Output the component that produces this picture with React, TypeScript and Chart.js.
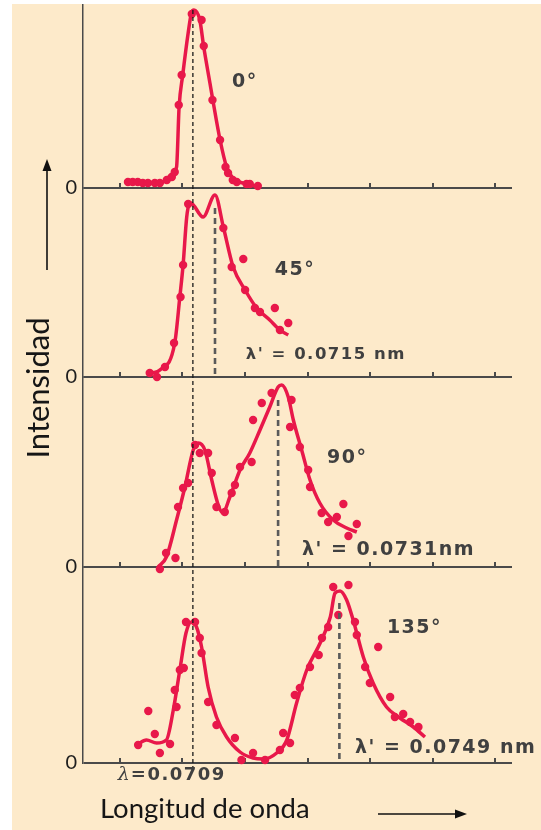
import React, { useEffect, useRef } from "react";
import { Chart, registerables } from "chart.js";

Chart.register(...registerables);

const BEIGE = "#FDEACA";
const RED = "#E8184A";
const AXIS = "#4a4a4a";
const LABEL = "#404040";

// wavelength axis (nm)
const X_MIN = 0.06787;
const X_MAX = 0.0797;
const xTicks = [0.06889, 0.0706, 0.07234, 0.07407, 0.07578, 0.07752, 0.07923];
const lambda0 = 0.0709;

const panelIds = ["p1", "p2", "p3", "p4"];
const panelMax = [183, 189, 190, 196];

// 0°
const fit0 = [
  [0.06907, 6], [0.06962, 5], [0.07007, 6], [0.07035, 15], [0.07045, 21], [0.07052, 81],
  [0.07062, 113], [0.07077, 155], [0.07086, 175], [0.07093, 178], [0.07109, 168], [0.0712, 141],
  [0.07137, 105], [0.07145, 88], [0.07165, 48], [0.07183, 21], [0.072, 10], [0.07238, 4], [0.07275, 1],
];
const pts0 = [
  [0.06911, 6], [0.06924, 6], [0.06938, 6], [0.06952, 5], [0.06966, 5], [0.06985, 5], [0.06999, 5],
  [0.07018, 8], [0.07032, 11], [0.0704, 16], [0.07051, 83], [0.07059, 113], [0.07087, 174],
  [0.07114, 168], [0.0712, 142], [0.07144, 88], [0.07165, 48], [0.0718, 21], [0.07187, 15],
  [0.072, 8], [0.07211, 6], [0.07238, 4], [0.07247, 4], [0.07269, 2],
];

// 45°
const fit45 = [
  [0.06976, 4], [0.06999, 7], [0.0704, 34], [0.07054, 80], [0.07063, 112], [0.07073, 160],
  [0.0708, 173], [0.07084, 174], [0.07118, 160], [0.07151, 182], [0.07174, 150], [0.07201, 110],
  [0.07234, 87], [0.07266, 69], [0.07302, 57], [0.0733, 47], [0.07353, 42],
];
const pts45 = [
  [0.06971, 4], [0.06991, 0], [0.07013, 10], [0.07038, 34], [0.07056, 80], [0.07063, 112],
  [0.07077, 173], [0.07174, 149], [0.07197, 110], [0.07229, 118], [0.07234, 87], [0.07261, 69],
  [0.07275, 65], [0.07316, 69], [0.0733, 47], [0.07353, 54],
];
const shift45 = [[0.07151, 169], [0.07151, 0]];

// 90°
const fit90 = [
  [0.06994, 0], [0.07017, 10], [0.07045, 47], [0.07068, 80], [0.07091, 117], [0.07105, 124],
  [0.07123, 117], [0.07142, 87], [0.0716, 62], [0.07172, 54], [0.07192, 70], [0.0722, 97],
  [0.07247, 114], [0.07275, 137], [0.07302, 160], [0.07325, 180], [0.07335, 182], [0.07353, 170],
  [0.07367, 147], [0.0739, 117], [0.07413, 87], [0.0744, 64], [0.07477, 47], [0.07514, 39], [0.07542, 35],
];
const pts90 = [
  [0.06999, -2], [0.07016, 14], [0.07042, 9], [0.07049, 60], [0.07063, 79], [0.07077, 84],
  [0.07096, 122], [0.07109, 114], [0.07132, 114], [0.07142, 94], [0.07155, 60], [0.07178, 55],
  [0.07197, 74], [0.07206, 82], [0.0722, 100], [0.07252, 105], [0.07256, 147], [0.0728, 164],
  [0.07307, 174], [0.07362, 167], [0.07358, 140], [0.07385, 120], [0.07408, 97], [0.07413, 80],
  [0.07445, 54], [0.07463, 45], [0.07487, 50], [0.07505, 63], [0.07519, 31], [0.07542, 43],
];
const shift90 = [[0.07325, 167], [0.07325, 0]];

// 135°
const fit135 = [
  [0.06935, 18], [0.06962, 23], [0.0699, 20], [0.07017, 23], [0.07036, 53], [0.07054, 93],
  [0.07071, 130], [0.07086, 141], [0.071, 136], [0.07114, 116], [0.07132, 76], [0.07155, 46],
  [0.07183, 26], [0.0722, 11], [0.07256, 5], [0.07284, 4], [0.07321, 10], [0.07349, 23],
  [0.07376, 60], [0.07404, 93], [0.07441, 120], [0.07469, 146], [0.07482, 170], [0.07496, 172],
  [0.07514, 163], [0.07532, 143], [0.0756, 106], [0.07587, 80], [0.07624, 56], [0.07661, 45],
  [0.07698, 36], [0.0773, 26],
];
const pts135 = [
  [0.06939, 18], [0.06967, 52], [0.06985, 29], [0.06999, 10], [0.07027, 19], [0.0704, 73],
  [0.07045, 56], [0.07054, 93], [0.07065, 95], [0.07071, 141], [0.07096, 141], [0.07109, 125],
  [0.07114, 110], [0.07132, 61], [0.07155, 38], [0.07206, 25], [0.07224, 3], [0.07256, 10],
  [0.07289, 3], [0.0733, 13], [0.07339, 30], [0.07358, 20], [0.07371, 68], [0.07385, 75],
  [0.07413, 96], [0.07437, 108], [0.07446, 125], [0.07463, 136], [0.07477, 176], [0.07491, 148],
  [0.07519, 178], [0.07537, 141], [0.07542, 128], [0.07565, 96], [0.07578, 80], [0.07601, 116],
  [0.07634, 66], [0.07647, 46], [0.0767, 49], [0.07689, 41], [0.07712, 36],
];
const shift135 = [[0.07494, 160], [0.07494, 0]];

// reference-line extent (values on top / bottom panel)
const lambdaTop = 178;
const lambdaBottom = -5;

// text annotations, anchored at data coordinates (left edge, vertical middle)
const annotations = [
  { text: "0°", x: 0.07198, y: 106, axis: "p1", size: 19 },
  { text: "45°", x: 0.07316, y: 107, axis: "p2", size: 19 },
  { text: "90°", x: 0.0746, y: 109, axis: "p3", size: 19 },
  { text: "135°", x: 0.07625, y: 135, axis: "p4", size: 19 },
  { text: "λ' = 0.0715 nm", x: 0.07236, y: 22, axis: "p2", size: 16.5 },
  { text: "λ' = 0.0731nm", x: 0.07391, y: 17, axis: "p3", size: 19 },
  { text: "λ' = 0.0749 nm", x: 0.07537, y: 15, axis: "p4", size: 19 },
];
const lambdaLabel = { sym: "λ", rest: "=0.0709", x: 0.06883, y: -12, axis: "p4" };

const yTitle = "Intensidad";
const xTitle = "Longitud de onda";

const toPts = (arr: number[][]) => arr.map(([x, y]) => ({ x, y }));

function curveDs(arr: number[][], axis: string) {
  return {
    data: toPts(arr), xAxisID: "x", yAxisID: axis, showLine: true, borderColor: RED,
    borderWidth: 3.5, pointRadius: 0, pointHoverRadius: 0, cubicInterpolationMode: "monotone",
    fill: false, clip: false, order: 2,
  };
}
function pointDs(arr: number[][], axis: string) {
  return {
    data: toPts(arr), xAxisID: "x", yAxisID: axis, showLine: false, backgroundColor: RED,
    borderColor: RED, borderWidth: 0, pointRadius: 4.2, clip: false, order: 1,
  };
}
function shiftDs(arr: number[][], axis: string) {
  return {
    data: toPts(arr), xAxisID: "x", yAxisID: axis, showLine: true, borderColor: "#5a5a5a",
    borderWidth: 2.6, borderDash: [6, 4], pointRadius: 0, fill: false, clip: false, order: 0,
  };
}

function panelAxis(i: number) {
  return {
    type: "linear",
    position: "left",
    stack: "panels",
    stackWeight: panelMax[i],
    weight: 4 - i,
    min: 0,
    max: panelMax[i],
    afterBuildTicks: (s: any) => {
      s.ticks = [{ value: 0 }];
    },
    afterFit: (s: any) => {
      s.width = 83;
      s.paddingTop = 0;
      s.paddingBottom = 0;
    },
    ticks: {
      color: "#1e1e1e",
      font: { family: "Lato", size: 20 },
      padding: 6,
      callback: () => "0",
    },
    grid: { drawTicks: false, color: AXIS, lineWidth: 2 },
    border: { display: true, color: AXIS, width: 1.5 },
  };
}

const decor = {
  id: "decor",
  beforeDatasetsDraw(chart: any) {
    const { ctx } = chart;
    const xs = chart.scales.x;
    ctx.save();
    ctx.strokeStyle = AXIS;
    ctx.lineWidth = 2;
    for (const id of panelIds) {
      const y0 = chart.scales[id].getPixelForValue(0);
      for (const t of xTicks) {
        const px = Math.round(xs.getPixelForValue(t));
        ctx.beginPath();
        ctx.moveTo(px, y0);
        ctx.lineTo(px, y0 - 5);
        ctx.stroke();
      }
    }
    ctx.restore();
  },
  afterDatasetsDraw(chart: any) {
    const { ctx, chartArea } = chart;
    const xs = chart.scales.x;
    ctx.save();
    // incident wavelength reference line
    const lx = xs.getPixelForValue(lambda0);
    ctx.strokeStyle = "#1a1a1a";
    ctx.lineWidth = 1.3;
    ctx.setLineDash([4, 3]);
    ctx.beginPath();
    ctx.moveTo(lx, chart.scales.p1.getPixelForValue(lambdaTop));
    ctx.lineTo(lx, chart.scales.p4.getPixelForValue(lambdaBottom));
    ctx.stroke();
    ctx.setLineDash([]);

    // annotations
    ctx.fillStyle = LABEL;
    ctx.textBaseline = "middle";
    ctx.textAlign = "left";
    (ctx as any).letterSpacing = "1.5px";
    for (const a of annotations) {
      ctx.font = `bold ${a.size}px 'DejaVu Sans'`;
      ctx.fillText(a.text, xs.getPixelForValue(a.x), chart.scales[a.axis].getPixelForValue(a.y));
    }
    const lxp = xs.getPixelForValue(lambdaLabel.x);
    const lyp = chart.scales[lambdaLabel.axis].getPixelForValue(lambdaLabel.y);
    (ctx as any).letterSpacing = "0px";
    ctx.font = "italic 19px 'DejaVu Serif'";
    ctx.fillText(lambdaLabel.sym, lxp, lyp);
    const w = ctx.measureText(lambdaLabel.sym).width;
    ctx.font = "bold 18px 'DejaVu Sans'";
    (ctx as any).letterSpacing = "1.5px";
    ctx.fillText(lambdaLabel.rest, lxp + w + 1, lyp);
    (ctx as any).letterSpacing = "0px";

    // axis titles
    ctx.fillStyle = "#161616";
    ctx.font = "31px Lato";
    ctx.save();
    ctx.translate(chartArea.left - 44, 388);
    ctx.rotate(-Math.PI / 2);
    ctx.textAlign = "center";
    ctx.fillText(yTitle, 0, 0);
    ctx.restore();
    ctx.font = "27.5px Lato";
    ctx.textAlign = "left";
    ctx.fillText(xTitle, 100, 809);

    // arrows
    ctx.strokeStyle = "#111";
    ctx.fillStyle = "#111";
    ctx.lineWidth = 1.6;
    const ax = chartArea.left - 36;
    ctx.beginPath();
    ctx.moveTo(ax, 270);
    ctx.lineTo(ax, 168);
    ctx.stroke();
    ctx.beginPath();
    ctx.moveTo(ax, 159);
    ctx.lineTo(ax - 4.5, 171);
    ctx.lineTo(ax + 4.5, 171);
    ctx.closePath();
    ctx.fill();
    ctx.beginPath();
    ctx.moveTo(378, 814);
    ctx.lineTo(458, 814);
    ctx.stroke();
    ctx.beginPath();
    ctx.moveTo(467, 814);
    ctx.lineTo(455, 809.5);
    ctx.lineTo(455, 818.5);
    ctx.closePath();
    ctx.fill();
    ctx.restore();
  },
};

export default function App() {
  const ref = useRef<HTMLCanvasElement>(null);
  useEffect(() => {
    const canvas = ref.current;
    if (!canvas) return;
    const chart = new Chart(canvas, {
      type: "scatter",
      data: {
        datasets: [
          curveDs(fit0, "p1"), pointDs(pts0, "p1"),
          curveDs(fit45, "p2"), pointDs(pts45, "p2"), shiftDs(shift45, "p2"),
          curveDs(fit90, "p3"), pointDs(pts90, "p3"), shiftDs(shift90, "p3"),
          curveDs(fit135, "p4"), pointDs(pts135, "p4"), shiftDs(shift135, "p4"),
        ] as any,
      },
      options: {
        animation: false,
        responsive: false,
        devicePixelRatio: 1,
        events: [],
        layout: { padding: { left: 0, top: 5, right: 29, bottom: 67 } },
        plugins: { legend: { display: false }, tooltip: { enabled: false }, title: { display: false } },
        scales: {
          x: { type: "linear", display: false, min: X_MIN, max: X_MAX },
          p1: panelAxis(0),
          p2: panelAxis(1),
          p3: panelAxis(2),
          p4: panelAxis(3),
        } as any,
      },
      plugins: [decor],
    });
    return () => chart.destroy();
  }, []);
  return (
    <div style={{ position: "fixed", left: 0, top: 0, width: 541, height: 830, background: "#fff", overflow: "hidden" }}>
      <div style={{ position: "absolute", left: 12, top: 4, right: 0, bottom: 0, background: BEIGE }} />
      <canvas ref={ref} width={541} height={830} style={{ position: "absolute", left: 0, top: 0, width: 541, height: 830 }} />
    </div>
  );
}
